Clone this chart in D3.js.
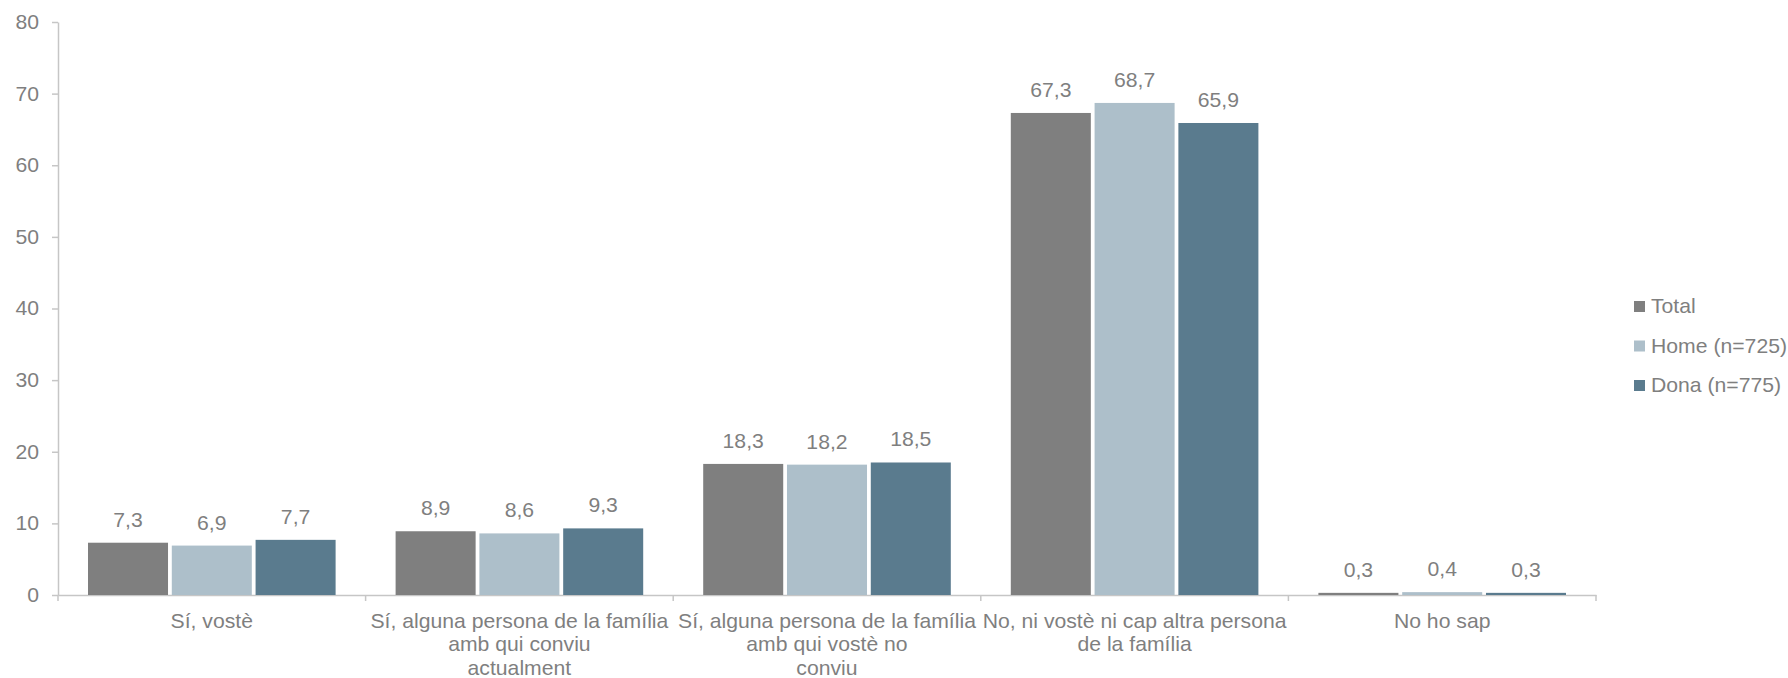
<!DOCTYPE html>
<html>
<head>
<meta charset="utf-8">
<script src="https://cdn.jsdelivr.net/npm/d3@7"></script>
<style>
  body { margin: 0; background: #fff; }
  text { font-family: "Liberation Sans", Arial, sans-serif; fill: #7f7f7f; transform-box: fill-box; }
</style>
</head>
<body>
<div id="chart"></div>
<script>
// Data

const categories = ["Sí, vostè", "Sí, família conviu", "Sí, família no conviu", "No", "No ho sap"];
const categoryLabels = [
  ["Sí, vostè"],
  ["Sí, alguna persona de la família", "amb qui conviu", "actualment"],
  ["Sí, alguna persona de la família", "amb qui vostè no", "conviu"],
  ["No, ni vostè ni cap altra persona", "de la família"],
  ["No ho sap"],
];
const seriesNames = ["Total", "Home (n=725)", "Dona (n=775)"];
const totalValues = [7.3, 8.9, 18.3, 67.3, 0.3];
const homeValues = [6.9, 8.6, 18.2, 68.7, 0.4];
const donaValues = [7.7, 9.3, 18.5, 65.9, 0.3];
const yTicks = [0, 10, 20, 30, 40, 50, 60, 70, 80];

const colors = ["#7f7f7f", "#adbfca", "#5a7b8e"];
const seriesValues = [totalValues, homeValues, donaValues];

const rows = [];
categories.forEach((c, i) => {
  seriesNames.forEach((s, j) => {
    rows.push({ category: c, series: s, value: seriesValues[j][i], color: colors[j] });
  });
});

// Core bar chart

const width = 1788;
const height = 678;

const margin = {
  top: 22,
  left: 58,
  right: 192,
  bottom: 83,
};

// the original text is a bit wider than Liberation Sans
const stretch = 1.06;

function widen(sel, origin) {
  sel
    .style("transform-origin", origin)
    .style("transform", `scale(${stretch},1)`);
}

const svg = d3
  .select("#chart")
  .append("svg")
  .attr("width", width)
  .attr("height", height);

const xScale = d3
  .scaleBand()
  .domain(categories)
  .range([margin.left, width - margin.right])
  .padding(0);

const innerScale = d3
  .scaleBand()
  .domain(seriesNames)
  .range([30, xScale.bandwidth() - 30])
  .paddingInner(0.045);

const yScale = d3
  .scaleLinear()
  .domain([0, 80])
  .range([height - margin.bottom, margin.top]);

const fmt = (v) => v.toFixed(1).replace(".", ",");

// Axis

const yAxis = svg
  .append("g")
  .attr("transform", `translate(${margin.left},0)`)
  .call(d3.axisLeft(yScale).tickValues(yTicks).tickSize(6).tickPadding(13).tickSizeOuter(0));

yAxis.select(".domain").attr("stroke", "#c6c6c6").attr("stroke-width", 1.5);
yAxis.selectAll(".tick line").attr("stroke", "#c6c6c6").attr("stroke-width", 1.5);
yAxis
  .selectAll(".tick text")
  .style("font-size", "20px")
  .attr("fill", "#7f7f7f")
  .call(widen, "right center");

const xAxis = svg
  .append("g")
  .attr("transform", `translate(0,${height - margin.bottom})`)
  .call(d3.axisBottom(xScale).tickSize(0).tickSizeOuter(0).tickFormat(""));

xAxis.select(".domain").attr("stroke", "#c6c6c6").attr("stroke-width", 1.5);

const boundaries = categories.map((c) => xScale(c)).concat([xScale.range()[1]]);

svg
  .selectAll(".boundary")
  .data(boundaries)
  .enter()
  .append("line")
  .attr("class", "boundary")
  .attr("x1", (d) => d)
  .attr("x2", (d) => d)
  .attr("y1", height - margin.bottom)
  .attr("y2", height - margin.bottom + 6)
  .attr("stroke", "#c6c6c6")
  .attr("stroke-width", 1.5);

// Bars

svg
  .selectAll(".bar")
  .data(rows)
  .enter()
  .append("rect")
  .attr("class", "bar")
  .attr("x", (d) => xScale(d.category) + innerScale(d.series))
  .attr("width", innerScale.bandwidth())
  .attr("y", (d) => yScale(d.value))
  .attr("height", (d) => yScale(0) - yScale(d.value))
  .style("fill", (d) => d.color);

svg
  .selectAll(".value-label")
  .data(rows)
  .enter()
  .append("text")
  .attr("class", "value-label")
  .attr("x", (d) => xScale(d.category) + innerScale(d.series) + innerScale.bandwidth() / 2)
  .attr("y", (d) => yScale(d.value) - 16)
  .attr("text-anchor", "middle")
  .style("font-size", "20px")
  .text((d) => fmt(d.value))
  .call(widen, "center");

// Category labels

const catLabels = svg
  .selectAll(".cat-label")
  .data(categories)
  .enter()
  .append("text")
  .attr("class", "cat-label")
  .attr("text-anchor", "middle")
  .style("font-size", "20px");

catLabels.each(function (c, i) {
  const cx = xScale(c) + xScale.bandwidth() / 2;
  d3.select(this)
    .selectAll("tspan")
    .data(categoryLabels[i])
    .enter()
    .append("tspan")
    .attr("x", cx)
    .attr("y", (d, k) => height - margin.bottom + 33 + k * 23.5)
    .text((d) => d);
});

catLabels.call(widen, "center");

// Legend

const legend = svg
  .selectAll(".legend")
  .data(seriesNames)
  .enter()
  .append("g")
  .attr("class", "legend")
  .attr("transform", (d, i) => `translate(1634,${313 + i * 39.5})`);

legend
  .append("rect")
  .attr("x", 0)
  .attr("y", -12)
  .attr("width", 11)
  .attr("height", 11)
  .style("fill", (d, i) => colors[i]);

legend
  .append("text")
  .attr("x", 17)
  .attr("y", 0)
  .style("font-size", "20px")
  .text((d) => d)
  .call(widen, "left center");
</script>
</body>
</html>
